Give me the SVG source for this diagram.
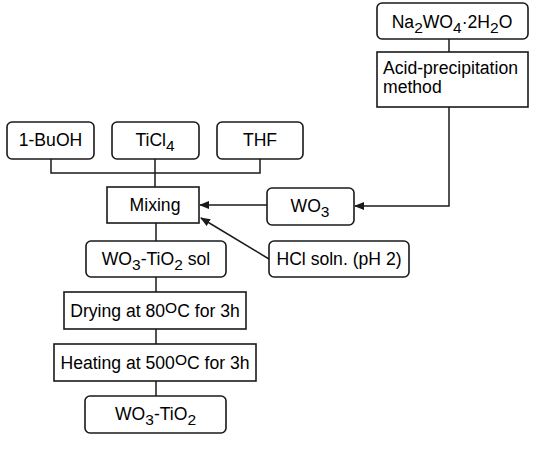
<svg xmlns="http://www.w3.org/2000/svg" width="540" height="451" viewBox="0 0 540 451">
<style>
.b{fill:#fff;stroke:#1a1a1a;stroke-width:1.6}
.c{fill:none;stroke:#1a1a1a;stroke-width:1.5}
text{font-family:"Liberation Sans",Arial,Helvetica,sans-serif;font-size:17.6px;fill:#000;text-anchor:middle}
.s{font-size:15.5px}
</style>
<defs>
<marker id="ah" markerWidth="10" markerHeight="8" refX="9" refY="4" orient="auto" markerUnits="userSpaceOnUse">
<path d="M0,0 L10,4 L0,8 Z" fill="#1a1a1a"/>
</marker>
</defs>
<rect width="540" height="451" fill="#fff"/>
<g id="connectors">
<path class="c" d="M449,39 V52"/>
<path class="c" d="M449,107 V206 H355" marker-end="url(#ah)"/>
<path class="c" d="M267,205 H200" marker-end="url(#ah)"/>
<path class="c" d="M269,259 L201,218" marker-end="url(#ah)"/>
<path class="c" d="M51,159 V173 H260 V159 M155,159 V187"/>
<path class="c" d="M156,223 V241 M156,277 V292 M156,329 V344 M156,381 V396"/>
</g>
<g id="na2wo4">
<rect class="b" x="377" y="3" width="151" height="36" rx="5"/>
<text x="452" y="28">Na<tspan class="s" dy="5">2</tspan><tspan dy="-5">WO</tspan><tspan class="s" dy="5">4</tspan><tspan dy="-5">·2H</tspan><tspan class="s" dy="5">2</tspan><tspan dy="-5">O</tspan></text>
</g>
<g id="acid">
<rect class="b" x="377" y="52" width="151" height="55"/>
<text x="383" y="74" style="text-anchor:start">Acid-precipitation</text>
<text x="383" y="93" style="text-anchor:start">method</text>
</g>
<g id="buoh">
<rect class="b" x="7" y="122" width="87" height="37" rx="5"/>
<text x="50.5" y="146">1-BuOH</text>
</g>
<g id="ticl4">
<rect class="b" x="112" y="122" width="87" height="37" rx="5"/>
<text x="155" y="146">TiCl<tspan class="s" dy="5">4</tspan></text>
</g>
<g id="thf">
<rect class="b" x="217" y="122" width="86" height="37" rx="5"/>
<text x="260" y="146">THF</text>
</g>
<g id="mixing">
<rect class="b" x="107" y="187" width="92" height="36"/>
<text x="155" y="211">Mixing</text>
</g>
<g id="wo3">
<rect class="b" x="267" y="188" width="87" height="37" rx="5"/>
<text x="310" y="212">WO<tspan class="s" dy="5">3</tspan></text>
</g>
<g id="hcl">
<rect class="b" x="269" y="241" width="140" height="36" rx="5"/>
<text x="339" y="265">HCl soln. (pH 2)</text>
</g>
<g id="sol">
<rect class="b" x="86" y="241" width="140" height="36" rx="5"/>
<text x="156" y="265">WO<tspan class="s" dy="5">3</tspan><tspan dy="-5">-TiO</tspan><tspan class="s" dy="5">2</tspan><tspan dy="-5"> sol</tspan></text>
</g>
<g id="drying">
<rect class="b" x="64" y="292" width="182" height="37"/>
<text x="155" y="317">Drying at 80<tspan class="s" dy="-4">O</tspan><tspan dy="4">C for 3h</tspan></text>
</g>
<g id="heating">
<rect class="b" x="54" y="344" width="202" height="37"/>
<text x="155" y="369">Heating at 500<tspan class="s" dy="-4">O</tspan><tspan dy="4">C for 3h</tspan></text>
</g>
<g id="product">
<rect class="b" x="85" y="396" width="141" height="37" rx="5"/>
<text x="155.5" y="420">WO<tspan class="s" dy="5">3</tspan><tspan dy="-5">-TiO</tspan><tspan class="s" dy="5">2</tspan></text>
</g>
</svg>
